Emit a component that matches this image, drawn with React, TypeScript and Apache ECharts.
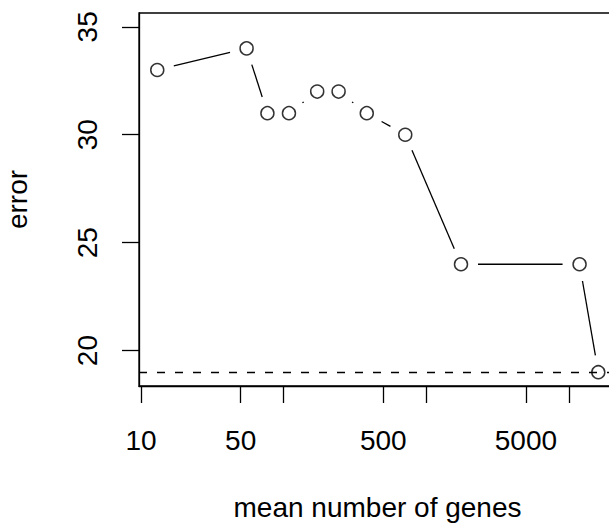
import React, { useEffect, useRef } from "react";
import * as echarts from "echarts";

// mean number of genes (x, log scale) and error (y)
const geneCounts = [13, 55, 77, 109, 172, 243, 383, 713, 1754, 11900, 16100];
const errors = [33, 34, 31, 31, 32, 32, 31, 30, 24, 24, 19];
const xTicks = [10, 50, 100, 500, 1000, 5000, 10000];
const xTickLabels = [10, 50, 500, 5000];
const yTicks = [20, 25, 30, 35];
const referenceError = 19;

const FONT = "'Liberation Sans', Arial, Helvetica, sans-serif";
const FS = 28;
const GAP = 17;

export default function App() {
  const ref = useRef<HTMLDivElement>(null);
  useEffect(() => {
    if (!ref.current) return;
    const chart = echarts.init(ref.current, undefined, { renderer: "svg" });
    const points = geneCounts.map((x, i) => [x, errors[i]]);
    const segments = geneCounts.slice(0, -1).map((x, i) => [x, errors[i], geneCounts[i + 1], errors[i + 1]]);
    const axisCommon = {
      axisLine: { show: true, lineStyle: { color: "#000", width: 1.3 } },
      axisTick: { show: true, inside: false, length: 17, lineStyle: { color: "#000", width: 1.3 } },
      splitLine: { show: false },
      nameTextStyle: { color: "#000", fontSize: FS, fontFamily: FONT },
    };
    chart.setOption({
      animation: false,
      backgroundColor: "#fff",
      grid: {
        left: 139,
        top: 13,
        width: 477,
        height: 373,
        outerBoundsMode: "none",
        containLabel: false,
        show: true,
        borderColor: "#000",
        borderWidth: 1.3,
        backgroundColor: "transparent",
      },
      xAxis: {
        type: "log",
        logBase: 10,
        min: 9.68,
        max: 21430,
        name: "mean number of genes",
        nameLocation: "middle",
        nameGap: 107,
        ...axisCommon,
        axisTick: { ...axisCommon.axisTick, customValues: xTicks },
        axisLabel: {
          customValues: xTickLabels,
          margin: 40,
          color: "#000",
          fontSize: FS,
          fontFamily: FONT,
          formatter: (v: number) => String(Math.round(v)),
        },
      },
      yAxis: {
        type: "value",
        min: 18.36,
        max: 35.64,
        name: "error",
        nameLocation: "middle",
        nameGap: 108,
        ...axisCommon,
        axisTick: { ...axisCommon.axisTick, customValues: yTicks },
        axisLabel: { customValues: yTicks, rotate: 90, margin: 38, color: "#000", fontSize: FS, fontFamily: FONT },
      },
      series: [
        {
          type: "custom",
          data: segments,
          encode: { x: [0, 2], y: [1, 3] },
          silent: true,
          renderItem: (params: any, api: any) => {
            const a = api.coord([api.value(0), api.value(1)]);
            const b = api.coord([api.value(2), api.value(3)]);
            const dx = b[0] - a[0];
            const dy = b[1] - a[1];
            const len = Math.hypot(dx, dy);
            if (len <= 2 * GAP) return { type: "group", children: [] };
            const ux = dx / len;
            const uy = dy / len;
            return {
              type: "line",
              shape: { x1: a[0] + ux * GAP, y1: a[1] + uy * GAP, x2: b[0] - ux * GAP, y2: b[1] - uy * GAP },
              style: { stroke: "#000", lineWidth: 1.3 },
            };
          },
        },
        {
          type: "scatter",
          data: points,
          symbol: "circle",
          symbolSize: 13,
          itemStyle: { color: "rgba(0,0,0,0)", borderColor: "#000", borderWidth: 1.5 },
          silent: true,
          markLine: {
            silent: true,
            symbol: ["none", "none"],
            label: { show: false },
            lineStyle: { color: "#000", width: 1.3, type: [8, 10] },
            data: [{ yAxis: referenceError }],
          },
        },
      ],
    });
    return () => chart.dispose();
  }, []);
  return <div ref={ref} style={{ position: "fixed", left: 0, top: 0, width: 609, height: 523 }} />;
}
